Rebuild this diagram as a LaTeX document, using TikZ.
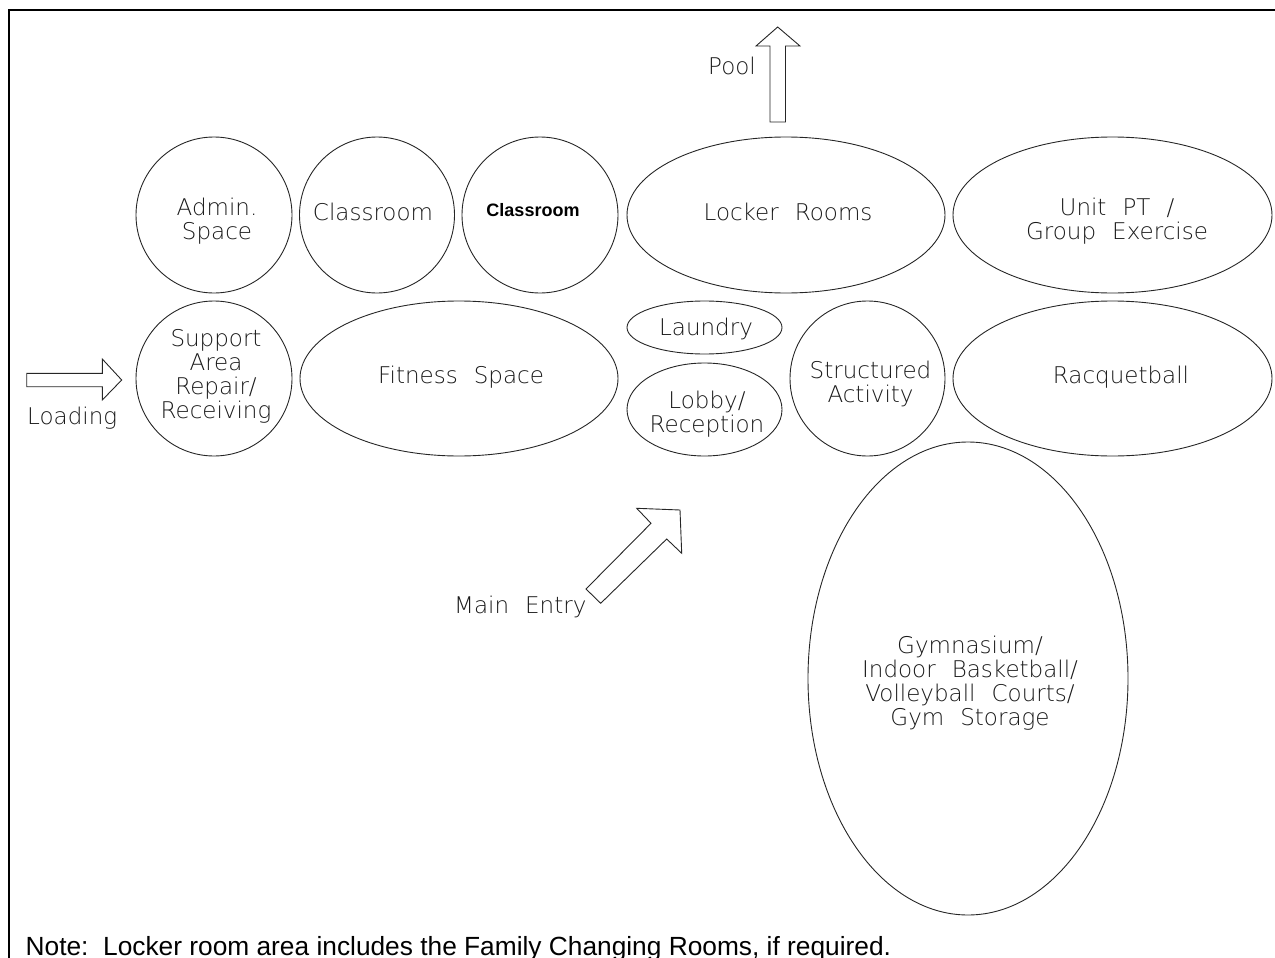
\documentclass[tikz,border=0pt]{standalone}
\usepackage{fontspec}
\setmainfont{Liberation Sans}
\newfontfamily\cad{DejaVu Sans ExtraLight}
\usetikzlibrary{shapes.geometric}
\newcommand{\ws}{\hspace{0.7em}}
\begin{document}
\begin{tikzpicture}[x=1pt,y=-1pt,
  room/.style={draw=black!85, line width=0.9pt, ellipse, inner sep=0pt},
  lbl/.style={font=\cad\fontsize{23}{24}\selectfont, align=center, inner sep=0pt, text=black!90},
  boldlbl/.style={font=\bfseries\fontsize{18}{20}\selectfont, inner sep=0pt, text=black},
  notelbl/.style={font=\fontsize{26.3}{28}\selectfont, inner sep=0pt, text=black},
  arrowshape/.style={draw=black!85, line width=0.9pt, line join=miter},
  frame/.style={draw=black, line width=2.8pt}]
\useasboundingbox (0,0) rectangle (1275,958);
% frame
\draw[frame] (9,970) -- (9,10) -- (1290,10);
% rooms
\node[room, minimum width=156pt, minimum height=156pt] (admin) at (214,215) {};
\node[room, minimum width=155pt, minimum height=156pt] (class1) at (377,215) {};
\node[room, minimum width=156pt, minimum height=156pt] (class2) at (540,215) {};
\node[room, minimum width=318pt, minimum height=156pt] (locker) at (786,215) {};
\node[room, minimum width=319pt, minimum height=156pt] (unitpt) at (1112.5,215) {};
\node[room, minimum width=156pt, minimum height=155pt] (support) at (214,378.5) {};
\node[room, minimum width=318pt, minimum height=155pt] (fitness) at (459,378.5) {};
\node[room, minimum width=155pt, minimum height=53pt] (laundry) at (704.5,327.5) {};
\node[room, minimum width=155pt, minimum height=93pt] (lobby) at (704.5,409.5) {};
\node[room, minimum width=155pt, minimum height=155pt] (struct) at (867.5,378.5) {};
\node[room, minimum width=319pt, minimum height=155pt] (racquet) at (1112.5,378.5) {};
\node[room, minimum width=320pt, minimum height=473pt] (gym) at (968,678.5) {};
% labels
\node[lbl] (adminT) at (217,221) {Admin.\\Space};
\node[lbl] (class1T) at (373,212.3) {Classroom};
\node[boldlbl] (class2T) at (533,210.5) {Classroom};
\node[lbl] (lockerT) at (788,212.3) {Locker\ws Rooms};
\node[lbl] (unitptT) at (1117,221) {Unit\ws PT\ws /\\Group\ws Exercise};
\node[lbl] (supportT) at (216,376.7) {Support\\Area\\Repair/\\Receiving};
\node[lbl] (fitnessT) at (461,377) {Fitness\ws Space};
\node[lbl] (laundryT) at (706,329) {Laundry};
\node[lbl] (lobbyT) at (707,414) {Lobby/\\Reception};
\node[lbl] (structT) at (870.5,384) {Structured\\Activity};
\node[lbl] (racquetT) at (1121,377) {Racquetball};
\node[lbl] (gymT) at (970,683) {Gymnasium/\\Indoor\ws Basketball/\\Volleyball\ws Courts/\\Gym\ws Storage};
% arrows
\draw[arrowshape] (26.7,373.3) -- (102.3,373.3) -- (102.3,359) -- (121.7,380) -- (102.3,400) -- (102.3,386.7) -- (26.7,386.7) -- cycle;
\draw[arrowshape] (770,122) -- (770,46) -- (756,46) -- (777.7,27) -- (800,46) -- (785.5,46) -- (785.5,122) -- cycle;
\draw[arrowshape] (586,589) -- (651,523.3) -- (636.7,508.3) -- (680,510) -- (681.7,553.3) -- (666.7,539) -- (600.7,603.3) -- cycle;
\node[lbl, anchor=base west] (loadingT) at (27,424) {Loading};
\node[lbl, anchor=base east] (poolT) at (756,75) {Pool};
\node[lbl, anchor=base west] (entryT) at (454,613) {Main\ws Entry};
% note
\node[notelbl, anchor=base west] (note) at (25.5,955) {Note:\ \ Locker room area includes the Family Changing Rooms, if required.};
\end{tikzpicture}
\end{document}
